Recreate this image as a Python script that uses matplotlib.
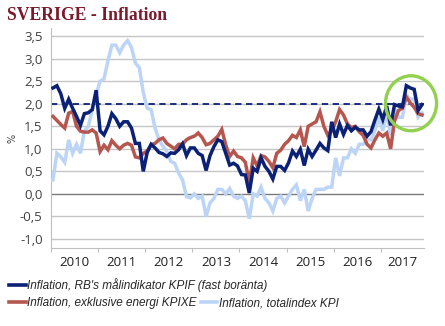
import matplotlib
matplotlib.use("Agg")
import matplotlib.pyplot as plt
import numpy as np
from matplotlib.lines import Line2D
from matplotlib.patches import Ellipse

# monthly data, Jan 2010 - Nov 2017 (percent, yoy)
years = ["2010", "2011", "2012", "2013", "2014", "2015", "2016", "2017"]

kpif = [
    2.35, 2.40, 2.22, 1.90, 2.10, 1.90, 1.72, 1.52, 1.78, 1.80, 1.87, 2.30,
    1.40, 1.31, 1.50, 1.78, 1.67, 1.50, 1.60, 1.60, 1.46, 1.12, 1.12, 0.50,
    0.92, 1.10, 1.02, 0.92, 0.89, 0.83, 0.91, 0.90, 0.98, 1.11, 0.85, 1.02,
    1.02, 0.90, 0.85, 0.52, 0.85, 1.05, 1.20, 1.16, 0.90, 0.64, 0.68, 0.62,
    0.43, 0.42, 0.02, 0.57, 0.50, 0.80, 0.61, 0.50, 0.33, 0.61, 0.61, 0.52,
    0.69, 0.95, 0.83, 0.99, 0.63, 0.99, 0.83, 0.97, 1.12, 1.02, 0.96, 1.60,
    1.25, 1.55, 1.32, 1.52, 1.40, 1.48, 1.42, 1.42, 1.28, 1.38, 1.64, 1.88,
    1.65, 1.95, 1.52, 1.98, 1.95, 1.93, 2.40, 2.35, 2.32, 1.85, 1.98,
]
kpixe = [
    1.72, 1.63, 1.54, 1.46, 1.79, 1.83, 1.50, 1.39, 1.37, 1.37, 1.42, 1.35,
    0.94, 1.08, 0.98, 1.18, 1.08, 1.00, 1.08, 1.12, 1.08, 0.82, 0.80, 0.90,
    0.95, 1.09, 1.12, 1.20, 1.24, 1.12, 1.06, 1.00, 1.10, 1.10, 1.20, 1.25,
    1.28, 1.35, 1.25, 1.09, 1.12, 1.20, 1.28, 1.43, 1.09, 0.83, 0.95, 0.83,
    0.80, 0.70, 0.25, 0.80, 0.62, 0.85, 0.82, 0.72, 0.58, 0.90, 0.97, 1.10,
    1.18, 1.30, 1.25, 1.42, 1.05, 1.50, 1.55, 1.60, 1.82, 1.50, 1.30, 1.40,
    1.60, 1.87, 1.75, 1.55, 1.47, 1.50, 1.38, 1.30, 1.10, 1.02, 1.20, 1.35,
    1.28, 1.35, 1.00, 1.62, 1.85, 1.90, 2.15, 2.02, 1.92, 1.78, 1.75,
]
kpi = [
    0.31, 0.90, 0.82, 0.70, 1.20, 0.90, 1.10, 0.90, 1.40, 1.50, 1.85, 2.20,
    2.50, 2.55, 2.95, 3.30, 3.30, 3.13, 3.30, 3.40, 3.25, 2.90, 2.80, 2.25,
    1.90, 1.87, 1.46, 1.20, 1.06, 0.94, 0.72, 0.68, 0.46, 0.31, -0.06, -0.09,
    0.00, -0.10, -0.05, -0.50, -0.20, -0.10, 0.10, 0.10, 0.00, 0.12, -0.05, -0.10,
    -0.05, -0.15, -0.55, 0.00, -0.05, 0.15, -0.10, -0.20, -0.38, -0.10, -0.05, -0.20,
    -0.05, 0.10, 0.20, -0.15, 0.10, -0.38, -0.10, 0.10, 0.10, 0.10, 0.15, 0.15,
    0.80, 0.40, 0.80, 0.80, 1.00, 0.90, 1.10, 1.10, 1.20, 1.20, 1.40, 1.70,
    1.40, 1.80, 1.30, 1.90, 1.70, 1.70, 2.20, 2.10, 2.10, 1.70, 1.80,
]
target = 2.0

c_kpif = "#0b2175"
c_kpixe = "#b5574e"
c_kpi = "#bcd5f7"
grey_txt = "#404040"

n = len(kpif)
x = np.arange(n) + 0.5

fig = plt.figure(figsize=(4.45, 3.26), dpi=100)
ax = fig.add_axes([51 / 445, 1 - 248 / 326, 373 / 445, 220 / 326])

ax.plot(x, kpi, color=c_kpi, lw=2.5, solid_joinstyle="miter", zorder=3)
ax.plot(x, kpixe, color=c_kpixe, lw=2.5, solid_joinstyle="miter", zorder=4)
ax.plot(x, kpif, color=c_kpif, lw=2.5, solid_joinstyle="miter", zorder=5)
ax.axhline(target, color=c_kpif, lw=1.3, ls=(0, (3.5, 2.5)), zorder=2)

ax.set_xlim(0, n)
ax.set_ylim(-1.2, 3.68)

yt = np.arange(-1.0, 3.51, 0.5)
ax.set_yticks(yt)
ax.set_yticklabels([f"{v:.1f}".replace(".", ",") for v in yt])
for v in yt:
    if abs(v) < 1e-9:
        ax.axhline(v, color="#7a7a7a", lw=1.0, zorder=1)
    else:
        ax.axhline(v, color="#c6c6c6", lw=1.0, zorder=1)

ax.set_xticks(np.arange(0, n, 12))
ax.set_xticklabels([])
centers = [min(k + 12, n) / 2 + k / 2 for k in range(0, n, 12)]
ax.set_xticks(centers, minor=True)
ax.set_xticklabels(years, minor=True)
ax.tick_params(axis="x", which="major", length=3, color="#bfbfbf", direction="out")
ax.tick_params(axis="x", which="minor", length=0, pad=6, labelsize=9.5,
               labelcolor="#202020")
ax.tick_params(axis="y", length=0, pad=6, labelsize=9.5, labelcolor=grey_txt)
for lab in ax.get_xticklabels(minor=True) + ax.get_yticklabels():
    lab.set_family("Open Sans")

for s in ["top", "right"]:
    ax.spines[s].set_visible(False)
ax.spines["left"].set_color("#bfbfbf")
ax.spines["bottom"].set_color("#bfbfbf")

ax.set_ylabel("%", fontsize=7, color=grey_txt, labelpad=2)

# green highlight circle round the latest values
ax.add_patch(Ellipse((91.7, 2.01), 13.0, 1.22, fill=False, ec="#92d050",
                     lw=2.4, clip_on=False, zorder=6))

fig.text(7 / 445, 1 - 16 / 326, "SVERIGE - Inflation", family="Liberation Serif",
         fontweight="bold", fontsize=12.7, color="#7b1a2c", va="center")

h1 = Line2D([], [], color=c_kpif, lw=2.6)
h2 = Line2D([], [], color=c_kpixe, lw=2.6)
h3 = Line2D([], [], color=c_kpi, lw=2.6)
lkw = dict(frameon=False, handlelength=1.4, handletextpad=0.1, borderpad=0,
           borderaxespad=0, columnspacing=0.4, loc="center left",
           prop={"family": "Liberation Sans", "style": "italic", "size": 8.5})
leg1 = fig.legend([h1], ["Inflation, RB's målindikator KPIF (fast boränta)"],
                  bbox_to_anchor=(9 / 445, 1 - 285 / 326), **lkw)
leg2 = fig.legend([h2, h3], ["Inflation, exklusive energi KPIXE",
                             "Inflation, totalindex KPI"], ncol=2,
                  bbox_to_anchor=(9 / 445, 1 - 303 / 326), **lkw)
for lg in (leg1, leg2):
    for t in lg.get_texts():
        t.set_color("#262626")

fig.savefig("out.png", dpi=100)
